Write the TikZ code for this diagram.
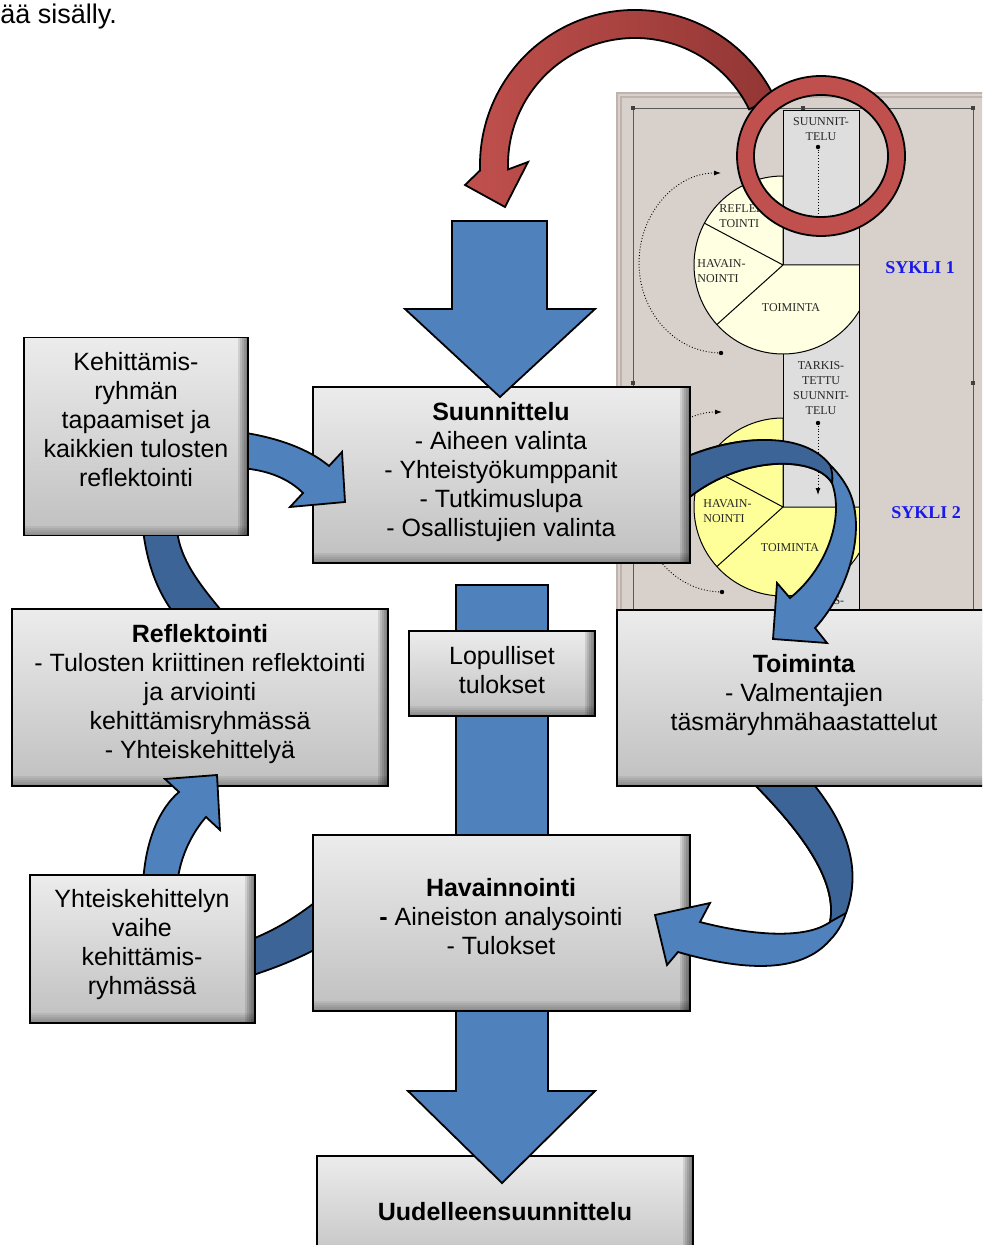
\documentclass[tikz,border=0pt]{standalone}
\usepackage{fontspec}
\setmainfont{Liberation Sans}
\newfontfamily\insetfont{Liberation Serif}
\usepackage{tikz}
\usetikzlibrary{arrows.meta, calc}
\definecolor{arrowblue}{RGB}{79,129,189}
\definecolor{backblue}{RGB}{61,100,150}
\definecolor{ringred}{RGB}{192,80,77}
\definecolor{darkred}{RGB}{146,54,52}
\definecolor{boxhi}{RGB}{236,236,236}
\definecolor{boxlo}{RGB}{192,192,192}
\definecolor{insetbg}{RGB}{216,208,202}
\definecolor{insetedge}{RGB}{190,180,173}
\definecolor{stripgray}{RGB}{222,222,222}
\definecolor{piecream}{RGB}{255,255,226}
\definecolor{pieyellow}{RGB}{255,255,153}
\definecolor{syklublue}{RGB}{25,25,235}

\begin{document}
\begin{tikzpicture}[
    x=0.5pt, y=-0.5pt,
    stage/.style={draw, line width=0.9pt, top color=boxhi, bottom color=boxlo, inner sep=0pt,
        path picture={
          \foreach \k in {1,...,5}
            \fill[black, opacity=0.11]
              ([xshift={-\k*1pt}]path picture bounding box.north east) rectangle (path picture bounding box.south east);
          \foreach \k in {1,...,5}
            \fill[black, opacity=0.06]
              ([yshift={\k*1pt}]path picture bounding box.south west) rectangle (path picture bounding box.south east);}},
    stagetext/.style={font=\fontsize{12.5}{14.5}\selectfont, align=center, inner sep=0pt},
    blockarrow/.style={draw, line width=0.9pt, fill=arrowblue, line join=miter},
    backband/.style={draw, line width=0.9pt, fill=backblue},
    insetlabel/.style={font=\insetfont\fontsize{6}{7.4}\selectfont, text=black!85, inner sep=0pt},
    piecut/.style={draw, line width=0.5pt},
    dotline/.style={densely dotted, line width=0.45pt},
    dotmark/.style={circle, fill, inner sep=0pt, minimum size=2.2pt},
    sykli/.style={font=\insetfont\bfseries\fontsize{9}{10}\selectfont, text=syklublue, inner sep=0pt}
]
    \useasboundingbox (0,0) rectangle (982,1245);
    \clip (0,0) rectangle (982,1245);

    % Text above the figure
    \node[anchor=base west, inner sep=0pt, font=\fontsize{13.5}{15}\selectfont] (prev) at (0,24) {ää sisälly.};

    % Inset: the cycle picture
    \fill[insetbg] (617,93) rectangle (1000,700);
    \draw[insetedge, line width=0.6pt] (617,93) rectangle (1000,700);
    \draw[insetedge, line width=0.6pt] (621,97) rectangle (1000,700);
    \draw[black!65, line width=0.35pt] (633,108) rectangle (973,700);
    \foreach \p in {(633,108),(803,108),(973,108),(633,383),(973,383)}
        \fill[black!75] \p ++(-2,-2) rectangle ++(4,4);
    \draw[fill=stripgray, line width=0.5pt] (783,111) rectangle (859,700);

    \begin{scope}
        \clip (600,100) rectangle (859,700);
        % Pie of cycle 1
        \coordinate (p1) at (783,265);
        \filldraw[piecut, fill=piecream] (p1) -- ++(0:89) arc[start angle=0, end angle=270, radius=89] -- cycle;
        \draw[piecut] (p1) -- ++(138:89);
        \draw[piecut] (p1) -- ++(208:89);
        % Pie of cycle 2
        \coordinate (p2) at (783,507);
        \filldraw[piecut, fill=pieyellow] (p2) -- ++(0:89) arc[start angle=0, end angle=270, radius=89] -- cycle;
        \draw[piecut] (p2) -- ++(138:89);
        \draw[piecut] (p2) -- ++(208:89);
    \end{scope}
    \draw[line width=0.5pt] (859,265) -- (859,700);

    % Inset labels
    \node[insetlabel, align=center] (suunnit1) at (821,129) {SUUNNIT-\\TELU};
    \node[insetlabel, align=left, anchor=west] (reflek1) at (719,216) {REFLEK-\\TOINTI};
    \node[insetlabel, align=left, anchor=west] (havain1) at (697,271) {HAVAIN-\\NOINTI};
    \node[insetlabel] (toim1) at (791,308) {TOIMINTA};
    \node[insetlabel, align=center] (tarkis1) at (821,388) {TARKIS-\\TETTU\\SUUNNIT-\\TELU};
    \node[insetlabel, align=left, anchor=west] (havain2) at (703,511) {HAVAIN-\\NOINTI};
    \node[insetlabel] (toim2) at (790,548) {TOIMINTA};
    \node[insetlabel] (tarkis2) at (821,601) {TARKIS-};
    \node[sykli] (sykli1) at (920,268) {SYKLI 1};
    \node[sykli] (sykli2) at (926,513) {SYKLI 2};

    % Dotted guides in the inset
    \node[dotmark] (d1) at (818,147) {};
    \node[dotmark] (d2) at (818,423) {};
    \node[dotmark] (d3) at (721,353) {};
    \node[dotmark] (d4) at (722,592) {};
    \draw[dotline] (d1) -- (818,232);
    \draw[dotline, -{Latex[length=3.5pt,width=2.5pt]}] (d2) -- (818,495);
    \draw[dotline, -{Latex[length=3.5pt,width=2.5pt]}] (d3.center) arc[start angle=90, end angle=270, x radius=82, y radius=90];
    \draw[dotline, -{Latex[length=3.5pt,width=2.5pt]}] (d4.center) arc[start angle=90, end angle=270, x radius=82, y radius=90];

    % Bands behind the boxes
    \filldraw[backband] (143,530) .. controls (148,570) and (160,595) .. (175,615) -- (225,615)
        .. controls (200,585) and (180,560) .. (177,530) -- cycle;
    \filldraw[backband] (250,940) .. controls (275,930) and (295,918) .. (318,900) -- (318,948)
        .. controls (295,960) and (275,968) .. (250,976) -- cycle;

    % Uudelleensuunnittelu
    \node[stage, minimum width=188pt, minimum height=57pt] (uude) at (505,1213) {};
    \node[stagetext] (uude-t) at (505,1212) {\textbf{Uudelleensuunnittelu}};

    % Main downward arrow
    \filldraw[blockarrow] (456,585) -- (548,585) -- (548,1091) -- (595,1091) -- (502,1183)
        -- (408,1091) -- (456,1091) -- cycle;

    % Reflektointi
    \node[stage, minimum width=188pt, minimum height=88.5pt] (refl) at (200,697.5) {};
    \node[stagetext] (refl-t) at (200,694) {\textbf{Reflektointi}\\- Tulosten kriittinen reflektointi\\ja arviointi\\kehittämisryhmässä\\- Yhteiskehittelyä};

    % Yhteiskehittelyn vaihe -> Reflektointi
    \filldraw[blockarrow] (143,885) .. controls (145,840) and (160,808) .. (179,792) -- (165,779)
        -- (217,775) -- (220,830) -- (206,817) .. controls (193,832) and (180,855) .. (177,885) -- cycle;

    % Yhteiskehittelyn vaihe
    \node[stage, minimum width=112.5pt, minimum height=74pt] (yhte) at (142.5,949) {};
    \node[stagetext] (yhte-t) at (142,944.5) {Yhteiskehittelyn\\vaihe\\kehittämis-\\ryhmässä};

    % Havainnointi
    \node[stage, minimum width=188.5pt, minimum height=88pt] (hava) at (501.5,923) {};
    \node[stagetext] (hava-t) at (501,917) {\textbf{Havainnointi}\\\textbf{-} Aineiston analysointi\\- Tulokset};

    % Lopulliset tulokset
    \node[stage, minimum width=93pt, minimum height=42.5pt] (lopu) at (502,673.5) {};
    \node[stagetext] (lopu-t) at (502,670.5) {Lopulliset\\tulokset};

    % Toiminta -> Havainnointi
    \filldraw[blockarrow] (810,780) .. controls (850,835) and (865,905) .. (830,940)
        .. controls (800,975) and (740,970) .. (678,952) -- (667,965) -- (655,915) -- (710,903) -- (700,922)
        .. controls (750,935) and (805,940) .. (830,922) .. controls (838,880) and (800,830) .. (750,780) -- cycle;
    \filldraw[backband] (750,780) .. controls (800,830) and (838,880) .. (830,922) -- (846,913)
        .. controls (862,870) and (848,825) .. (810,780) -- cycle;

    % Toiminta
    \node[stage, minimum width=191.5pt, minimum height=88pt] (toim) at (808.5,698) {};
    \node[stagetext] (toim-t) at (804,695) {\textbf{Toiminta}\\- Valmentajien\\täsmäryhmähaastattelut};

    % Suunnittelu -> Toiminta
    \filldraw[blockarrow] (686,457) .. controls (745,432) and (815,430) .. (847,487)
        .. controls (868,525) and (850,590) .. (815,628) -- (827,643) -- (773,639) -- (777,583) -- (790,598)
        .. controls (825,570) and (845,520) .. (832,483) .. controls (815,455) and (740,455) .. (686,500) -- cycle;
    \filldraw[backband] (686,457) .. controls (740,434) and (805,432) .. (830,465)
        .. controls (832,470) and (833,477) .. (832,483) .. controls (815,455) and (740,455) .. (686,500) -- cycle;

    % Suunnittelu
    \node[stage, minimum width=188.5pt, minimum height=88pt] (suun) at (501.5,475) {};
    \node[stagetext] (suun-t) at (501,472) {\textbf{Suunnittelu}\\- Aiheen valinta\\- Yhteistyökumppanit\\- Tutkimuslupa\\- Osallistujien valinta};

    % Kehittämisryhmä -> Suunnittelu
    \filldraw[blockarrow] (240,432) .. controls (280,438) and (310,450) .. (329,466) -- (342,452)
        -- (345,502) -- (290,507) -- (303,493) .. controls (290,480) and (270,470) .. (240,468) -- cycle;

    % Kehittämisryhmän tapaamiset
    \node[stage, minimum width=112pt, minimum height=99pt] (kehi) at (136,436.5) {};
    \node[stagetext] (kehi-t) at (136,420) {Kehittämis-\\ryhmän\\tapaamiset ja\\kaikkien tulosten\\reflektointi};

    % Arrow into Suunnittelu
    \filldraw[blockarrow] (452,221) -- (547,221) -- (547,309) -- (595,309) -- (500,397)
        -- (405,309) -- (452,309) -- cycle;

    % Red curved arrow and ring
    \coordinate (rc) at (635,165);
    \filldraw[draw=black, line width=0.9pt, left color=ringred, right color=darkred]
        ($(rc)+(334:155)$) arc[start angle=334, end angle=178, radius=155]
        -- (465,185) -- (505,207) -- (528,162)
        -- ($(rc)+(178:127)$) arc[start angle=178, end angle=334, radius=127] -- cycle;
    \filldraw[draw=black, line width=0.9pt, fill=ringred, even odd rule]
        (821,156) ellipse[x radius=84, y radius=80] (821,156) ellipse[x radius=67, y radius=61];
\end{tikzpicture}
\end{document}
